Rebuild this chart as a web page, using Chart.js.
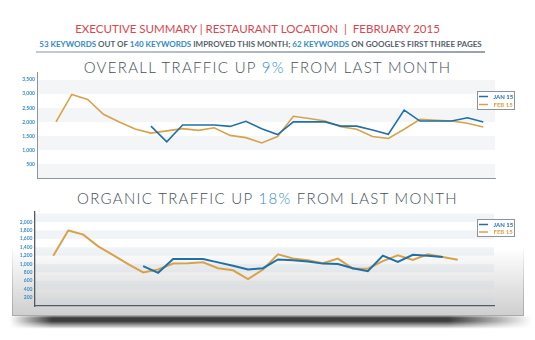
<!DOCTYPE html>
<html>
<head>
<meta charset="utf-8">
<script src="https://cdn.jsdelivr.net/npm/chart.js@4.4.1/dist/chart.umd.min.js"></script>
<style>
  body { margin: 0; width: 535px; height: 340px; background: #fff; position: relative; overflow: hidden; font-family: Lato, "Open Sans", sans-serif; }
  .txt { position: absolute; left: 0; width: 535px; text-align: center; line-height: 1; white-space: nowrap; }
  .head { top: 23px; font-size: 11.5px; color: #d9464f; letter-spacing: 0; margin-left: -10px; }
  .sub { top: 40px; font-size: 8px; font-weight: bold; color: #56616c; letter-spacing: 0; margin-left: -7px; }
  .sub b, .title b { color: #3489c4; font-weight: inherit; }
  .title { font-size: 15px; font-weight: 300; color: #46505a; letter-spacing: 1.3px; }
  .rule { position: absolute; left: 36px; top: 51px; width: 449px; height: 2px; background: linear-gradient(to right, #c3cad2, #98a2ad); }
  .card { position: absolute; left: 12px; top: 200px; width: 510px; height: 115px; background: linear-gradient(to bottom, #fff 0%, #fff 42%, #cfcfcf 100%); border: 1px solid; border-top: none; border-image: linear-gradient(to bottom, rgba(160,160,160,0) 40%, #a9a9a9 100%) 1; }
  .shadow { position: absolute; left: 10px; top: 316px; width: 522px; height: 13px; background: linear-gradient(to right, rgba(45,45,45,0) 0%, rgba(45,45,45,0.92) 8%, rgba(45,45,45,0.92) 84%, rgba(45,45,45,0) 100%); -webkit-mask-image: linear-gradient(to bottom, #000 40%, transparent); filter: blur(1px); }
  canvas { position: absolute; left: 0; }
</style>
</head>
<body>
<div class="txt head">EXECUTIVE SUMMARY | RESTAURANT LOCATION &nbsp;| &nbsp;FEBRUARY 2015</div>
<div class="txt sub"><b>53 KEYWORDS</b> OUT OF <b>140 KEYWORDS</b> IMPROVED THIS MONTH; <b>62 KEYWORDS</b> ON GOOGLE'S FIRST THREE PAGES</div>
<div class="rule"></div>
<div class="txt title" style="top:60px">OVERALL TRAFFIC UP <b>9%</b> FROM LAST MONTH</div>
<div class="shadow"></div>
<div class="card"></div>
<div class="txt title" style="top:191px">ORGANIC TRAFFIC UP <b>18%</b> FROM LAST MONTH</div>
<canvas id="overallChart" width="535" height="125" style="top:60px"></canvas>
<canvas id="organicChart" width="535" height="115" style="top:200px"></canvas>
<script>
// day of February each point belongs to (January is plotted against the same days)
const days = [1, 2, 3, 4, 5, 6, 7, 8, 9, 10, 11, 12, 13, 14, 15, 16, 17, 18, 19, 20, 21, 22, 23, 24, 25, 26, 27, 28];

const janOverall = [null, null, null, null, null, null, 1850, 1290, 1890, 1890, 1890, 1840, 2020, 1760, 1550, 2000, 2000, 2000, 1850, 1850, 1710, 1560, 2420, 2030, 2030, 2030, 2150, 2000];
const febOverall = [2000, 2980, 2800, 2270, 2000, 1750, 1600, 1680, 1760, 1700, 1790, 1520, 1440, 1250, 1480, 2200, 2120, 2030, 1830, 1740, 1480, 1410, 1740, 2090, 2060, 2030, 1950, 1820];

const janOrganic = [null, null, null, null, null, null, 950, 790, 1120, 1120, 1120, 1040, 960, 870, 900, 1110, 1090, 1060, 1010, 1000, 900, 830, 1200, 1050, 1220, 1200, 1170, null];
const febOrganic = [1200, 1800, 1700, 1420, 1210, 1000, 800, 870, 1010, 1020, 1040, 900, 850, 640, 870, 1230, 1130, 1090, 1020, 1130, 890, 890, 1070, 1210, 1100, 1230, 1170, 1100];

const seriesLabels = ["JAN 15", "FEB 15"];
const overallTicks = [500, 1000, 1500, 2000, 2500, 3000, 3500];
const organicTicks = [200, 400, 600, 800, 1000, 1200, 1400, 1600, 1800, 2000];

const BLUE = "#1f70a8";
const GOLD = "#d8a24a";

// alternating light bands behind the lines
const stripes = {
  id: "stripes",
  beforeDraw(chart, args, opts) {
    const { ctx, chartArea: a, scales: { y } } = chart;
    ctx.save();
    ctx.fillStyle = opts.color;
    for (let v = 0; v < y.max; v += opts.step * 2) {
      const top = y.getPixelForValue(Math.min(v + opts.step, y.max));
      const bot = y.getPixelForValue(v);
      ctx.fillRect(a.left, top, a.right - a.left, bot - top);
    }
    ctx.restore();
  },
};

// small boxed legend floating at the top right corner
const boxLegend = {
  id: "boxLegend",
  afterDraw(chart, args, opts) {
    const { ctx, chartArea: a } = chart;
    const x = Math.round(a.right + opts.dx), y = Math.round(a.top + opts.dy);
    ctx.save();
    ctx.fillStyle = "#fff";
    ctx.fillRect(x, y, 37, opts.h);
    ctx.strokeStyle = "#8a939c";
    ctx.lineWidth = 1;
    ctx.strokeRect(x + 0.5, y + 0.5, 37, opts.h);
    ctx.font = "bold 6px Lato";
    ctx.textBaseline = "middle";
    chart.data.datasets.forEach((ds, i) => {
      const ly = y + 5.5 + i * opts.gap;
      ctx.strokeStyle = ds.borderColor;
      ctx.lineWidth = 1.5;
      ctx.beginPath();
      ctx.moveTo(x + 2, ly);
      ctx.lineTo(x + 11, ly);
      ctx.stroke();
      ctx.fillStyle = ds.borderColor;
      ctx.fillText(ds.label, x + 16.5, ly + 0.5);
    });
    ctx.restore();
  },
};

function toPoints(values) {
  return days.map((d, i) => ({ x: d, y: values[i] }));
}

function createTrafficChart(id, jan, feb, o) {
  const ctx = document.getElementById(id).getContext("2d");
  return new Chart(ctx, {
    type: "line",
    data: {
      datasets: [
        { label: seriesLabels[0], data: toPoints(jan), borderColor: BLUE, borderWidth: o.lineWidth },
        { label: seriesLabels[1], data: toPoints(feb), borderColor: GOLD, borderWidth: o.lineWidth },
      ],
    },
    options: {
      responsive: false,
      animation: false,
      devicePixelRatio: 1,
      layout: { padding: o.padding },
      elements: { point: { radius: 0 }, line: { tension: 0 } },
      plugins: {
        legend: { display: false },
        tooltip: { enabled: false },
        stripes: { step: o.step, color: o.stripe },
        boxLegend: o.legend,
      },
      scales: {
        x: {
          type: "linear",
          min: o.xMin,
          max: o.xMax,
          ticks: { display: false },
          grid: { display: false, drawTicks: false },
          border: { color: o.axis, width: o.axisWidth },
          afterFit: (scale) => { scale.height = 0; },
        },
        y: {
          min: 0,
          max: o.yMax,
          afterBuildTicks: (scale) => { scale.ticks = o.ticks.map((v) => ({ value: v })); },
          ticks: {
            color: "#3c8cc6",
            font: { family: "Lato", size: 5, weight: "bold" },
            padding: o.tickPad,
            callback: (v) => v.toLocaleString("en-US"),
          },
          grid: { display: false, drawTicks: false },
          border: { color: o.axis, width: o.axisWidth },
          afterFit: (scale) => { scale.width = o.axisX; },
        },
      },
    },
    plugins: [stripes, boxLegend],
  });
}

createTrafficChart("overallChart", janOverall, febOverall, {
  padding: { top: 12, right: 40, bottom: 7, left: 0 },
  axisX: 37,
  xMin: -0.2,
  xMax: 28.74,
  yMax: 3780,
  step: 500,
  ticks: overallTicks,
  tickPad: 2,
  stripe: "#f3f5f7",
  axis: "#8c949c",
  axisWidth: 1,
  lineWidth: 1.6,
  legend: { dx: -18.5, dy: 18.5, h: 18, gap: 8 },
});

createTrafficChart("organicChart", janOrganic, febOrganic, {
  padding: { top: 12, right: 41, bottom: 9, left: 0 },
  axisX: 35,
  xMin: -0.22,
  xMax: 30.42,
  yMax: 2240,
  step: 200,
  ticks: organicTicks,
  tickPad: 2.5,
  stripe: "rgba(205,215,225,0.28)",
  axis: "#555b61",
  axisWidth: 1.3,
  lineWidth: 2,
  legend: { dx: -17.5, dy: 6.5, h: 17, gap: 7.5 },
});
</script>
</body>
</html>
